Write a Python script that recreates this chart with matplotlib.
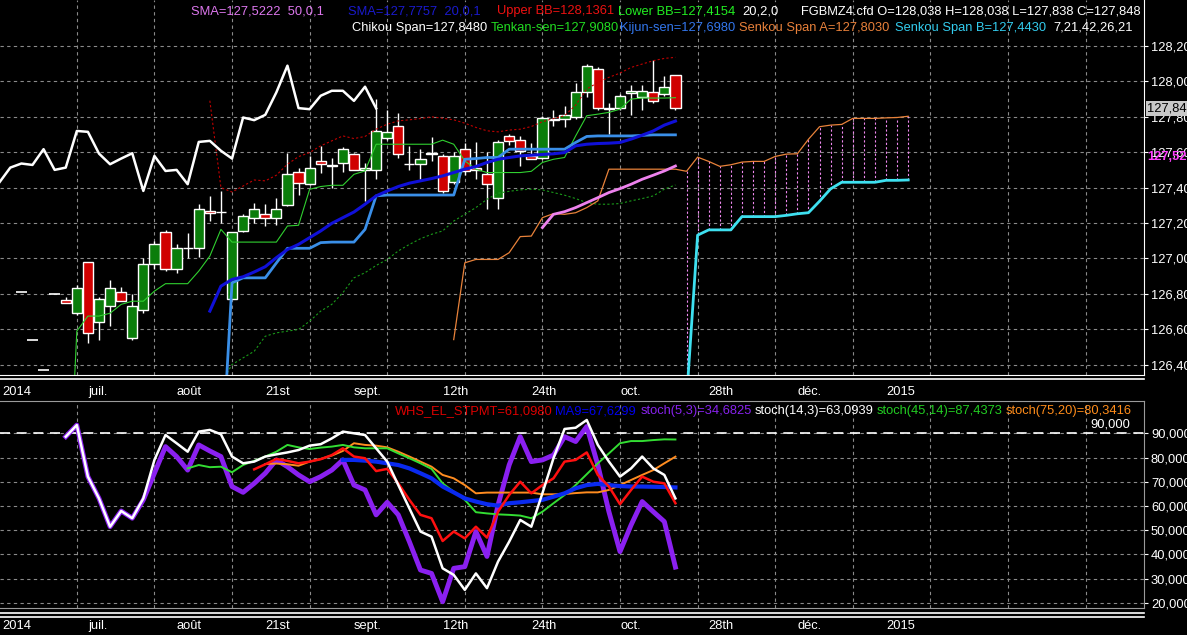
import numpy as np
import matplotlib
matplotlib.use('Agg')
import matplotlib.pyplot as plt
from matplotlib.lines import Line2D
from matplotlib.ticker import FuncFormatter
import matplotlib.transforms as mtransforms

plt.rcParams['font.family'] = ['Liberation Sans', 'DejaVu Sans']

# ---- price bars (bar index starts at 1) ----
first_bar = 1
opens = [126.811, 126.541, 126.372, 126.80, 126.765, 126.69, 126.98, 126.64, 126.73, 126.81,
         126.55, 126.71, 126.97, 127.15, 126.94, 127.06, 127.06, 127.27, 127.262, 126.77,
         127.155, 127.226, 127.25, 127.23, 127.30, 127.49, 127.42, 127.55, 127.523, 127.54,
         127.59, 127.50, 127.50, 127.68, 127.75, 127.536, 127.532, 127.59, 127.58, 127.43,
         127.62, 127.51, 127.475, 127.34, 127.69, 127.67, 127.58, 127.57, 127.79, 127.79,
         127.80, 127.94, 128.07, 127.85, 127.85, 127.935, 127.91, 127.94, 127.93, 128.038]
highs = [126.811, 126.541, 126.372, 126.80, 126.78, 126.85, 126.98, 126.78, 126.88, 126.84,
         126.80, 127.00, 127.10, 127.16, 127.08, 127.145, 127.31, 127.35, 127.38, 127.15,
         127.25, 127.315, 127.305, 127.34, 127.598, 127.513, 127.58, 127.636, 127.57, 127.627,
         127.598, 127.54, 127.90, 127.84, 127.82, 127.636, 127.62, 127.687, 127.59, 127.60,
         127.65, 127.66, 127.60, 127.67, 127.70, 127.69, 127.65, 127.805, 127.84, 127.86,
         127.99, 128.10, 128.08, 127.88, 127.93, 127.98, 127.98, 128.12, 128.03, 128.038]
lows = [126.811, 126.541, 126.372, 126.80, 126.75, 126.68, 126.52, 126.54, 126.62, 126.76,
        126.54, 126.69, 126.94, 126.93, 126.92, 127.00, 127.01, 127.21, 127.20, 126.77,
        127.15, 127.198, 127.183, 127.19, 127.296, 127.36, 127.415, 127.48, 127.40, 127.49,
        127.50, 127.325, 127.447, 127.67, 127.57, 127.50, 127.447, 127.55, 127.37, 127.42,
        127.47, 127.45, 127.28, 127.28, 127.64, 127.52, 127.56, 127.56, 127.75, 127.74,
        127.79, 127.91, 127.84, 127.70, 127.84, 127.81, 127.84, 127.88, 127.92, 127.838]
closes = [126.811, 126.541, 126.372, 126.80, 126.75, 126.83, 126.58, 126.77, 126.83, 126.76,
          126.73, 126.97, 127.08, 126.94, 127.06, 127.057, 127.28, 127.255, 127.262, 127.15,
          127.24, 127.277, 127.226, 127.277, 127.479, 127.428, 127.513, 127.536, 127.528, 127.617,
          127.50, 127.513, 127.72, 127.715, 127.592, 127.532, 127.564, 127.594, 127.381, 127.579,
          127.494, 127.50, 127.419, 127.658, 127.664, 127.608, 127.564, 127.796, 127.781, 127.811,
          127.938, 128.089, 127.849, 127.843, 127.919, 127.947, 127.947, 127.89, 127.97, 127.848]
chikou_shift = 26

tenkan_start = 5
tenkan = [125.26, 126.589, 126.674, 126.674, 126.69, 126.74, 126.758, 126.758, 126.815, 126.857,
          126.857, 126.857, 126.928, 127.013, 127.164, 127.092, 127.092, 127.092, 127.092, 127.092,
          127.183, 127.187, 127.39, 127.406, 127.413, 127.413, 127.475, 127.494, 127.645, 127.645,
          127.645, 127.645, 127.645, 127.645, 127.668, 127.645, 127.551, 127.504, 127.485, 127.485,
          127.485, 127.485, 127.492, 127.542, 127.56, 127.57, 127.692, 127.806, 127.815, 127.825,
          127.843, 127.90, 127.906, 127.906, 127.906, 127.908]
kijun_start = 19
kijun = [125.75, 126.862, 126.89, 126.89, 126.89, 126.974, 127.057, 127.057, 127.057, 127.089,
         127.092, 127.092, 127.092, 127.164, 127.353, 127.358, 127.358, 127.358, 127.358, 127.358,
         127.358, 127.358, 127.56, 127.564, 127.57, 127.57, 127.617, 127.617, 127.617, 127.617,
         127.617, 127.617, 127.655, 127.689, 127.692, 127.692, 127.692, 127.692, 127.695, 127.698,
         127.698, 127.698]
sma20_start = 18
sma20 = [126.702, 126.843, 126.881, 126.896, 126.923, 126.953, 127.004, 127.05, 127.079, 127.117,
         127.155, 127.198, 127.23, 127.262, 127.306, 127.353, 127.381, 127.406, 127.425, 127.438,
         127.451, 127.466, 127.485, 127.504, 127.519, 127.542, 127.56, 127.57, 127.579, 127.583,
         127.587, 127.591, 127.598, 127.636, 127.645, 127.649, 127.651, 127.655, 127.674, 127.696,
         127.72, 127.753, 127.776]
sma50_start = 48
sma50 = [127.174, 127.249, 127.264, 127.287, 127.315, 127.343, 127.372, 127.394, 127.419, 127.447,
         127.47, 127.494, 127.522]
bb_start = 18
bb_upper = [127.891, 127.40, 127.375, 127.409, 127.443, 127.438, 127.47, 127.532, 127.575, 127.598,
            127.636, 127.664, 127.692, 127.677, 127.689, 127.73, 127.758, 127.777, 127.783, 127.79,
            127.80, 127.792, 127.783, 127.764, 127.74, 127.721, 127.715, 127.725, 127.73, 127.745,
            127.772, 127.79, 127.806, 127.866, 127.957, 127.994, 128.023, 128.047, 128.079, 128.098,
            128.117, 128.13, 128.136]
bb_lower = [125.51, 126.29, 126.40, 126.438, 126.475, 126.56, 126.579, 126.589, 126.598, 126.645,
            126.702, 126.74, 126.806, 126.89, 126.919, 126.96, 126.994, 127.042, 127.079, 127.111,
            127.136, 127.155, 127.211, 127.249, 127.287, 127.334, 127.368, 127.379, 127.387, 127.391,
            127.387, 127.372, 127.357, 127.338, 127.315, 127.306, 127.306, 127.31, 127.325, 127.338,
            127.353, 127.391, 127.415]
span_a_start = 40
span_a = [126.541, 126.975, 126.994, 126.994, 126.994, 127.032, 127.123, 127.126, 127.23, 127.253,
          127.249, 127.258, 127.287, 127.325, 127.504, 127.504, 127.504, 127.504, 127.504, 127.504,
          127.504, 127.492, 127.572, 127.548, 127.52, 127.529, 127.544, 127.548, 127.548, 127.576,
          127.589, 127.591, 127.673, 127.744, 127.753, 127.757, 127.791, 127.791, 127.791, 127.794,
          127.796, 127.803]
span_b_start = 61
span_b = [126.2, 127.131, 127.161, 127.161, 127.161, 127.236, 127.236, 127.236, 127.236, 127.243,
          127.252, 127.258, 127.323, 127.393, 127.43, 127.43, 127.43, 127.43, 127.441, 127.441,
          127.443]

# ---- oscillator panel ----
stoch5_start = 5
stoch5 = [88.6, 93.4, 72.1, 63.1, 51.4, 57.9, 54.9, 62.5, 73.5, 84.5,
          80.4, 74.8, 85.2, 82.7, 80.4, 68.0, 65.6, 69.3, 73.5, 79.0,
          76.2, 72.8, 70.0, 72.1, 74.8, 79.0, 68.6, 66.6, 56.3, 61.5,
          56.3, 45.2, 33.5, 32.1, 20.4, 34.2, 34.9, 49.4, 39.1, 60.4,
          76.9, 88.6, 78.3, 79.0, 81.0, 88.6, 86.6, 92.8, 76.9, 57.6,
          41.1, 52.1, 61.8, 57.6, 53.5, 34.7]
stoch14_start = 5
stoch14 = [88.6, 93.4, 72.1, 63.1, 51.4, 57.9, 54.9, 63.1, 79.0, 89.3,
           85.9, 82.4, 90.7, 91.4, 89.6, 80.4, 77.6, 78.3, 80.4, 81.3,
           82.1, 83.1, 84.9, 85.5, 87.9, 90.7, 90.0, 89.3, 83.8, 78.3,
           68.6, 59.0, 49.4, 47.3, 34.2, 31.5, 25.3, 32.1, 26.0, 37.0,
           45.2, 54.2, 51.4, 65.2, 79.7, 91.8, 92.3, 95.5, 85.2, 78.3,
           72.1, 75.5, 80.4, 75.5, 72.8, 63.1]
stoch45_start = 16
stoch45 = [75.5, 76.9, 76.0, 76.2, 73.9, 76.9, 78.6, 80.4, 82.4, 85.2,
           84.2, 83.5, 84.1, 84.5, 85.2, 84.2, 83.8, 83.8, 83.8, 81.7,
           79.7, 77.6, 75.3, 69.3, 65.9, 62.5, 57.4, 56.9, 56.5, 56.3,
           56.0, 54.9, 57.6, 61.1, 64.5, 68.6, 73.1, 77.6, 81.7, 85.9,
           86.8, 86.8, 87.2, 87.5, 87.44]
stoch75_start = 23
stoch75 = [77.3, 77.5, 77.2, 76.6, 78.3, 79.4, 80.8, 82.7, 85.9, 85.2,
           84.9, 84.2, 82.4, 80.4, 78.3, 76.2, 72.8, 71.4, 68.6, 65.2,
           65.5, 65.5, 65.5, 65.5, 65.5, 64.8, 64.8, 64.9, 65.3, 65.6,
           65.6, 66.6, 68.6, 70.7, 72.8, 74.8, 77.6, 80.34]
whs_start = 22
whs = [75.1, 77.2, 79.4, 78.6, 77.6, 78.3, 79.3, 81.0, 83.8, 80.4,
       79.7, 74.4, 75.3, 69.3, 62.5, 56.3, 54.9, 45.5, 49.4, 46.6,
       51.4, 46.9, 57.6, 64.5, 70.0, 65.2, 68.6, 71.4, 78.3, 79.0,
       82.1, 72.8, 68.0, 60.7, 66.6, 72.1, 70.0, 69.3, 61.1]
ma9_start = 30
ma9 = [79.0, 79.0, 78.7, 78.3, 77.6, 76.9, 75.5, 73.5, 71.4, 68.0,
       65.6, 63.1, 61.8, 60.7, 60.1, 61.1, 61.5, 62.0, 62.5, 63.8,
       65.2, 67.3, 68.6, 69.1, 68.6, 68.2, 68.0, 68.0, 67.9, 67.8, 67.63]
osc_level = 90

date_labels = ['2014', 'juil.', 'août', '21st', 'sept.', '12th', '24th', 'oct.', '28th', 'déc.', '2015']
date_bars = [-0.75, 7, 15, 23, 31, 39, 47, 55, 63, 71, 79]

# ---- figure ----
W, H = 1187, 635
fig = plt.figure(figsize=(W / 100, H / 100), dpi=100, facecolor='black')

def fx(px):
    return px / W

def fy(py):
    return 1 - py / H

def xs(start, vals):
    return np.arange(start, start + len(vals))

XMIN, XMAX = -0.93, 102.27
fsz = 9.3
grid_kw = dict(color='#8a8a8a', ls=(0, (3, 3)), lw=0.8)
comma = FuncFormatter(lambda v, p: ('%.3f' % v).replace('.', ','))

ax_p = fig.add_axes([0, fy(375), fx(1144), fy(0) - fy(375)])
ax_s = fig.add_axes([0, fy(608), fx(1144), fy(401) - fy(608)])

for ax in (ax_p, ax_s):
    ax.set_facecolor('black')
    ax.set_xlim(XMIN, XMAX)
    ax.set_xticks(np.arange(6, 103, 7))
    ax.tick_params(axis='x', length=0, labelbottom=False)
    ax.yaxis.tick_right()
    ax.yaxis.set_major_formatter(comma)
    ax.tick_params(axis='y', colors='white', labelsize=fsz, length=3, pad=2)
    ax.grid(True, **grid_kw)
    ax.set_axisbelow(True)
    ax.spines['left'].set_visible(False)

ax_p.set_ylim(126.341, 128.46)
ax_p.set_yticks(np.arange(126.4, 128.21, 0.2))
ax_p.spines['top'].set_visible(False)
ax_p.spines['right'].set_color('white')
ax_p.spines['bottom'].set_color('white')

ax_s.set_ylim(17.81, 103.35)
ax_s.set_yticks(np.arange(20, 91, 10))
for s in ('top', 'right', 'bottom'):
    ax_s.spines[s].set_color('#9a9a9a')

# candles
bars = xs(first_bar, closes)
for b, o, h, l, c in zip(bars, opens, highs, lows, closes):
    if h == l:
        ax_p.hlines(c, b - 0.5, b + 0.5, color='white', lw=1.2, zorder=3)
        continue
    ax_p.vlines(b, l, h, color='white', lw=1, zorder=3)
    col = '#0a7d0a' if c >= o else '#d00000'
    ax_p.bar(b, max(abs(c - o), 0.002), bottom=min(o, c), width=0.92,
             color=col, edgecolor='white', lw=1, zorder=4)

# ichimoku cloud
a_x = xs(span_a_start, span_a)
b_x = xs(span_b_start, span_b)
a_on_b = np.array(span_a)[np.isin(a_x, b_x)]
ax_p.vlines(b_x, span_b, a_on_b, colors='#ee88ee', linestyles=(0, (2, 2)), lw=0.8, zorder=2)

ax_p.plot(xs(bb_start, bb_upper), bb_upper, color='#c00000', lw=0.8, ls=(0, (2, 2)), zorder=5)
ax_p.plot(xs(bb_start, bb_lower), bb_lower, color='#1a9a1a', lw=0.8, ls=(0, (2, 2)), zorder=5)
ax_p.plot(a_x, span_a, color='#e8823a', lw=0.9, zorder=5)
ax_p.plot(b_x, span_b, color='#3ee0f0', lw=2, zorder=5)
ax_p.plot(xs(tenkan_start, tenkan), tenkan, color='#30d030', lw=0.8, zorder=5)
ax_p.plot(xs(kijun_start, kijun), kijun, color='#3a8fe8', lw=2, zorder=5)
ax_p.plot(xs(sma20_start, sma20), sma20, color='#1010d8', lw=2.2, zorder=5)
ax_p.plot(xs(sma50_start, sma50), sma50, color='#ee82ee', lw=2, zorder=5)
chik = closes[chikou_shift - first_bar:]
ax_p.plot(np.arange(len(chik)) - 1, chik, color='white', lw=1.8, zorder=6)

# right side markers
tr_p = mtransforms.blended_transform_factory(ax_p.transAxes, ax_p.transData)
xr = 1147 / 1144
ax_p.text(xr, 127.575, '127,522', transform=tr_p, color='#ff40ff', fontsize=fsz,
          fontweight='bold', va='center', ha='left', clip_on=False, zorder=10)
ax_p.text(xr, closes[-1], comma(closes[-1], 0), transform=tr_p, color='black', fontsize=fsz,
          va='center', ha='left', clip_on=False, zorder=11,
          bbox=dict(facecolor='#c8c8c8', edgecolor='none', pad=1))

# oscillators
ax_s.axhline(osc_level, color='white', lw=1.2, ls=(0, (6, 4)), zorder=3)
ax_s.plot(xs(stoch5_start, stoch5), stoch5, color='#8a20f0', lw=3.5, zorder=4)
ax_s.plot(xs(stoch75_start, stoch75), stoch75, color='#ff8c20', lw=1.4, zorder=5)
ax_s.plot(xs(stoch45_start, stoch45), stoch45, color='#33dd33', lw=1.4, zorder=5)
ax_s.plot(xs(ma9_start, ma9), ma9, color='#0a2af0', lw=3, zorder=5)
ax_s.plot(xs(whs_start, whs), whs, color='#ff1010', lw=1.8, zorder=6)
ax_s.plot(xs(stoch14_start, stoch14), stoch14, color='white', lw=1.8, zorder=7)
tr_s = mtransforms.blended_transform_factory(ax_s.transAxes, ax_s.transData)
ax_s.text(1130 / 1144, osc_level + 1.2, '90,000', transform=tr_s, color='white',
          fontsize=fsz, ha='right', va='bottom')

# frame lines between panels
for py in (379,):
    fig.add_artist(Line2D([0, fx(1144)], [fy(py), fy(py)], color='white', lw=1.2))
for py in (613, 617):
    fig.add_artist(Line2D([0, fx(1144)], [fy(py), fy(py)], color='white', lw=1.2))

# date labels
for lab, b in zip(date_labels, date_bars):
    px = 10.3 + 11.086 * b
    for py in (392, 626):
        fig.text(fx(px), fy(py), lab, color='white', fontsize=fsz, ha='left', va='center')

# legends
top_row1 = [('SMA=127,5222  50,0,1', '#dd77ee', 191),
            ('SMA=127,7757  20,0,1', '#1a1acc', 348),
            ('Upper BB=128,1361', '#ee1111', 497),
            ('Lower BB=127,4154', '#22ee22', 618),
            ('20,2,0', 'white', 742),
            ('FGBMZ4.cfd O=128,038 H=128,038 L=127,838 C=127,848', 'white', 801)]
top_row2 = [('Chikou Span=127,8480', 'white', 352),
            ('Tenkan-sen=127,9080', '#22dd22', 491),
            ('Kijun-sen=127,6980', '#3377ee', 620),
            ('Senkou Span A=127,8030', '#e8803a', 739),
            ('Senkou Span B=127,4430', '#33ccee', 895),
            ('7,21,42,26,21', 'white', 1053)]
osc_row = [('WHS_EL_STPMT=61,0980', '#dd0000', 395),
           ('MA9=67,6299', '#0000ee', 555),
           ('stoch(5,3)=34,6825', '#8822ee', 641),
           ('stoch(14,3)=63,0939', 'white', 755),
           ('stoch(45,14)=87,4373', '#22cc22', 877),
           ('stoch(75,20)=80,3416', '#ff8c1a', 1006)]
for row, py in ((top_row1, 11), (top_row2, 28), (osc_row, 411)):
    for txt, col, px in row:
        fig.text(fx(px), fy(py), txt, color=col, fontsize=fsz, ha='left', va='center', zorder=12)

fig.savefig('out.png', dpi=100, facecolor='black')
